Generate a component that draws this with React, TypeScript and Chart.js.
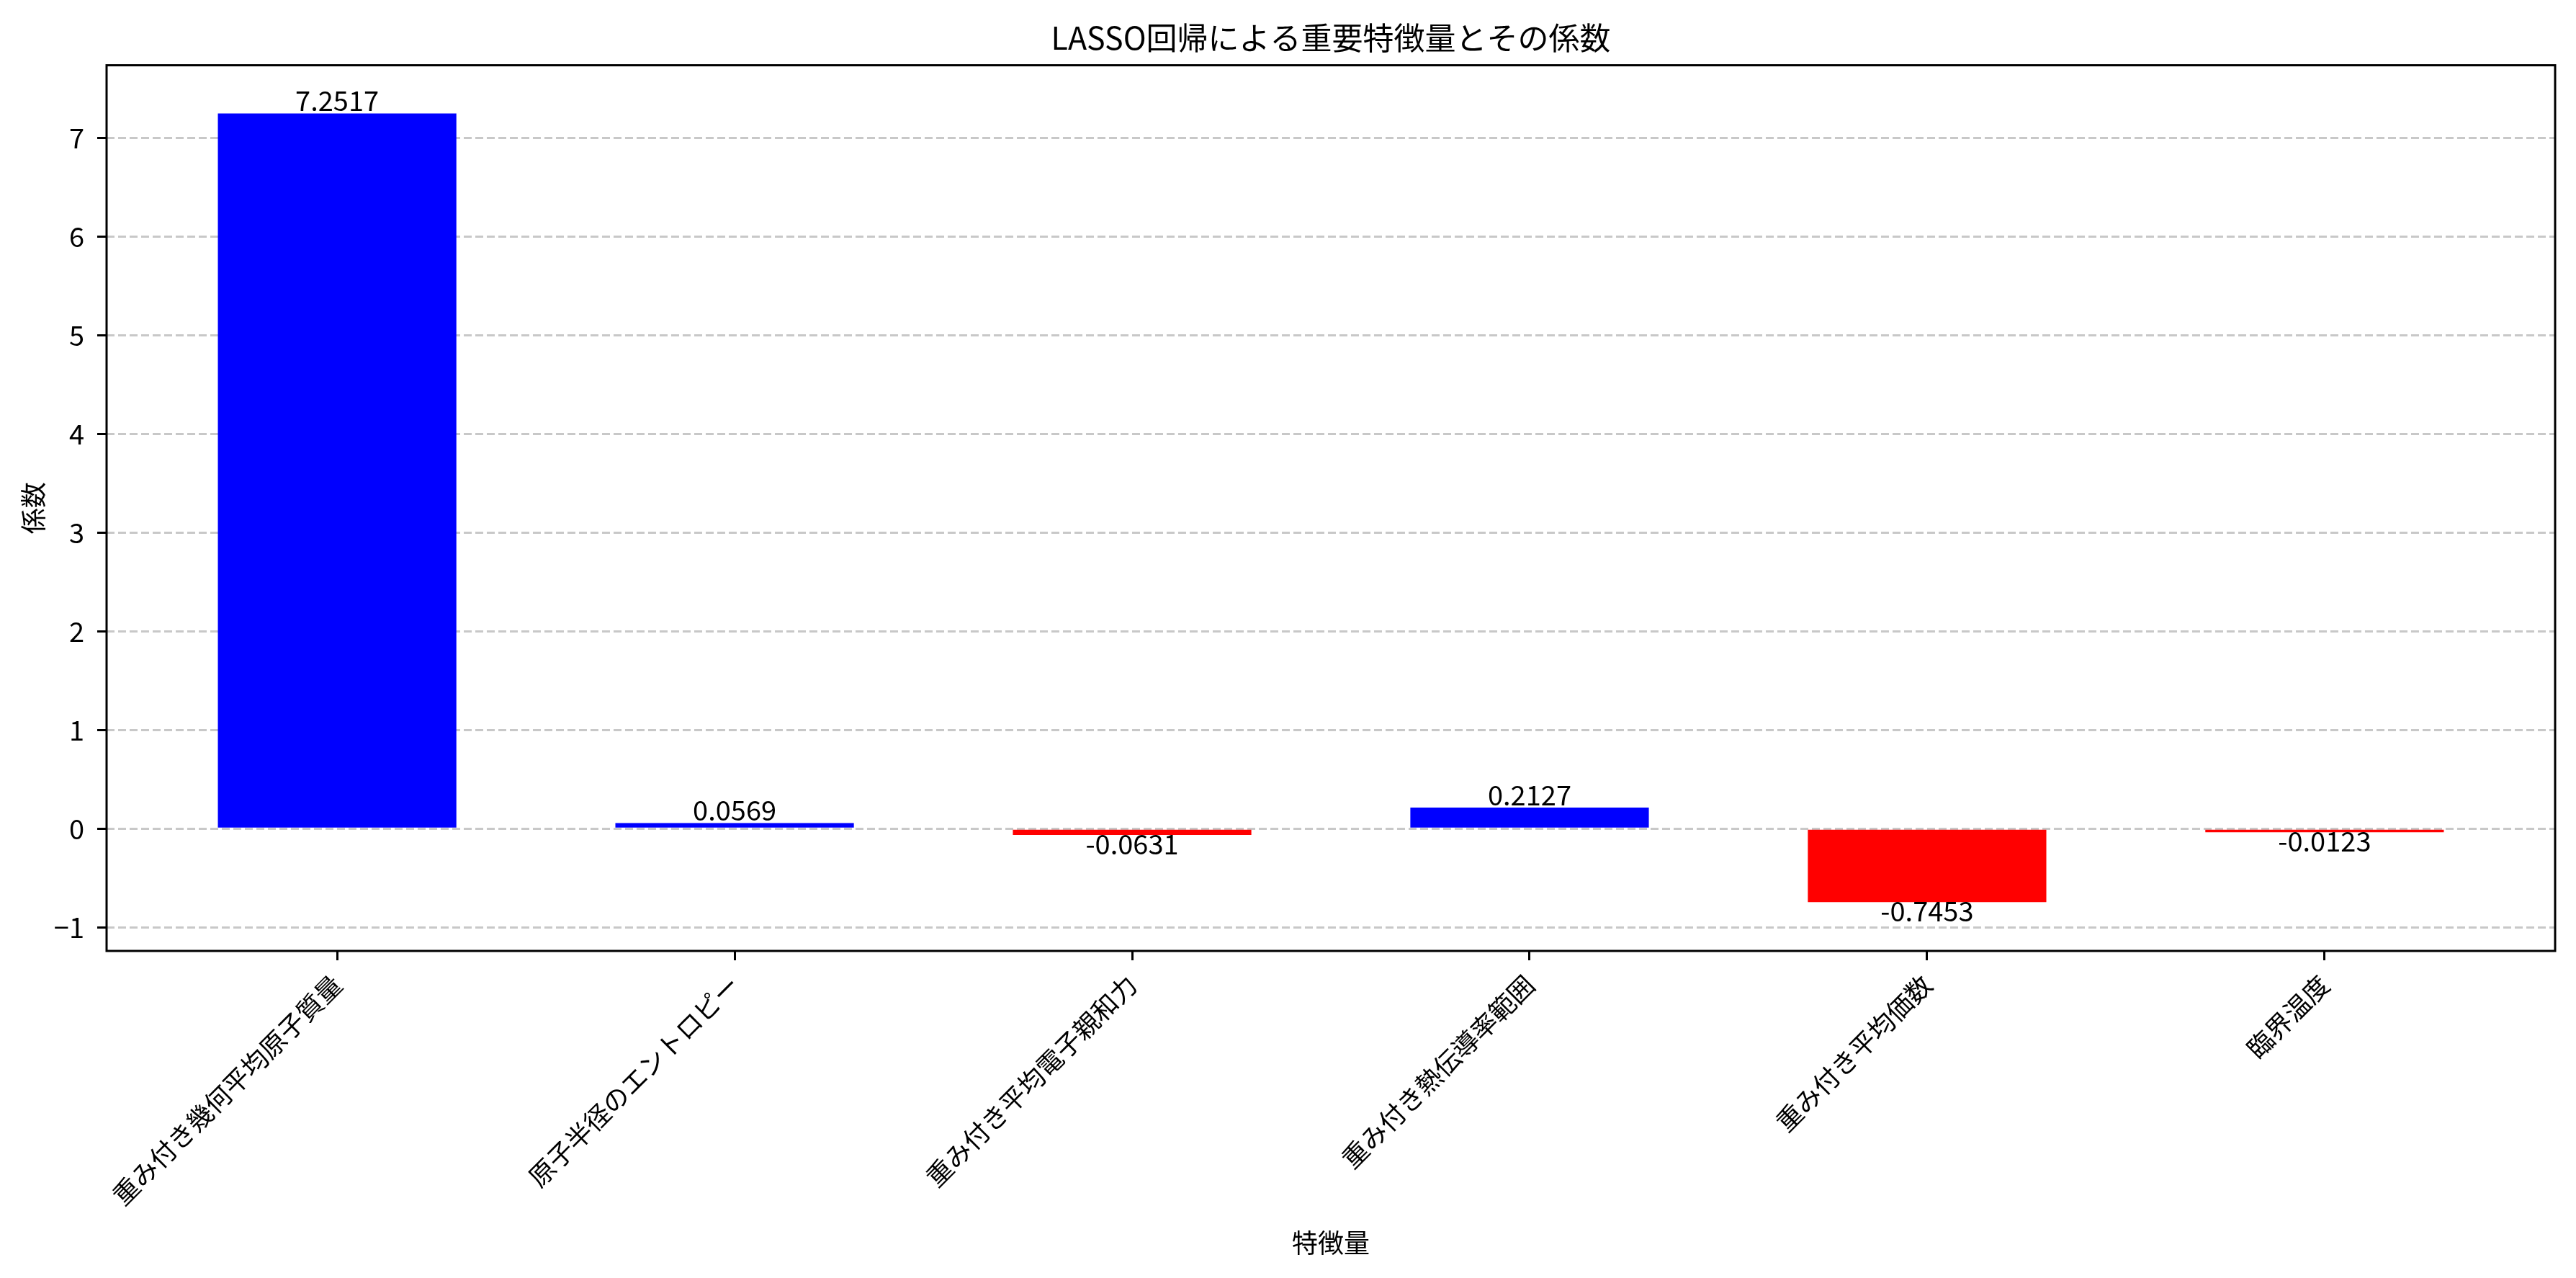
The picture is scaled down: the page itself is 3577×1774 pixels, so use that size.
import { useEffect, useRef } from 'react';
import { Chart, registerables } from 'chart.js';

Chart.register(...registerables);

const features = [
  '重み付き幾何平均原子質量',
  '原子半径のエントロピー',
  '重み付き平均電子親和力',
  '重み付き熱伝導率範囲',
  '重み付き平均価数',
  '臨界温度',
];
const coefficients = [7.2517, 0.0569, -0.0631, 0.2127, -0.7453, -0.0123];
const yTicks = [-1, 0, 1, 2, 3, 4, 5, 6, 7];

const FONT = "'Noto Sans CJK JP', 'Noto Sans', sans-serif";

// value labels above / below each bar, plus the box around the plot
const annotate = {
  id: 'annotate',
  afterDraw(chart: any) {
    const { ctx, chartArea } = chart;
    const meta = chart.getDatasetMeta(0);
    ctx.save();
    ctx.font = `38px ${FONT}`;
    ctx.fillStyle = '#000';
    ctx.textAlign = 'center';
    ctx.textBaseline = 'alphabetic';
    meta.data.forEach((bar: any, i: number) => {
      const v = coefficients[i];
      const y = v >= 0 ? bar.y - 3 : bar.y + 27;
      ctx.fillText(v.toFixed(4), bar.x, y);
    });
    ctx.strokeStyle = '#000';
    ctx.lineWidth = 3;
    ctx.strokeRect(chartArea.left, chartArea.top, chartArea.right - chartArea.left, chartArea.bottom - chartArea.top);
    ctx.restore();
  },
};

export default function App() {
  const chartRef = useRef<HTMLCanvasElement>(null);
  const chartInstance = useRef<Chart | null>(null);

  useEffect(() => {
    if (!chartRef.current) return;
    if (chartInstance.current) chartInstance.current.destroy();

    chartInstance.current = new Chart(chartRef.current, {
      type: 'bar',
      data: {
        datasets: [
          {
            data: coefficients.map((v, i) => ({ x: i, y: v })),
            backgroundColor: coefficients.map((v) => (v >= 0 ? '#0000ff' : '#ff0000')),
            borderWidth: 0,
            barPercentage: 0.6,
            categoryPercentage: 1,
            minBarLength: 5,
          },
        ],
      },
      options: {
        animation: false,
        responsive: true,
        maintainAspectRatio: false,
        layout: { padding: { right: 29 } },
        plugins: {
          legend: { display: false },
          tooltip: { enabled: false },
          title: {
            display: true,
            fullSize: false,
            text: 'LASSO回帰による重要特徴量とその係数',
            color: '#000',
            font: { family: FONT, size: 43, weight: 'normal' },
            padding: { top: 27, bottom: 12 },
          },
        },
        scales: {
          x: {
            type: 'linear',
            min: -0.58,
            max: 5.58,
            offset: false,
            afterFit: (s: any) => {
              s.height = 454;
            },
            afterBuildTicks: (s: any) => {
              s.ticks = features.map((_, i) => ({ value: i }));
            },
            grid: {
              offset: false,
              drawOnChartArea: false,
              drawTicks: true,
              tickLength: 13,
              tickColor: '#000',
              tickWidth: 3,
            },
            border: { display: false },
            ticks: {
              autoSkip: false,
              minRotation: 45,
              maxRotation: 45,
              padding: 12,
              color: '#000',
              font: { family: FONT, size: 36 },
              callback: (v: any) => features[v] ?? '',
            },
            title: {
              display: true,
              text: '特徴量',
              color: '#000',
              font: { family: FONT, size: 36 },
              padding: { top: 0, bottom: 27 },
            },
          },
          y: {
            min: -1.24,
            max: 7.74,
            z: 1,
            afterFit: (s: any) => {
              s.width = 148;
            },
            afterBuildTicks: (s: any) => {
              s.ticks = yTicks.map((v) => ({ value: v }));
            },
            grid: {
              color: 'rgba(176,176,176,0.7)',
              lineWidth: 3,
              drawTicks: true,
              tickLength: 13,
              tickColor: '#000',
              tickWidth: 3,
              tickBorderDash: [],
            },
            border: { display: false, dash: [11, 5] },
            ticks: {
              padding: 18,
              color: '#000',
              font: { family: FONT, size: 38 },
              callback: (v: any) => (v < 0 ? '\u2212' + Math.abs(v) : String(v)),
            },
            title: {
              display: true,
              text: '係数',
              color: '#000',
              font: { family: FONT, size: 36 },
              padding: { top: 25, bottom: 0 },
            },
          },
        },
      },
      plugins: [annotate],
    } as any);

    return () => {
      if (chartInstance.current) {
        chartInstance.current.destroy();
        chartInstance.current = null;
      }
    };
  }, []);

  return (
    <div style={{ position: 'fixed', left: 0, top: 0, width: 3577, height: 1774, background: '#fff' }}>
      <canvas ref={chartRef} />
    </div>
  );
}
